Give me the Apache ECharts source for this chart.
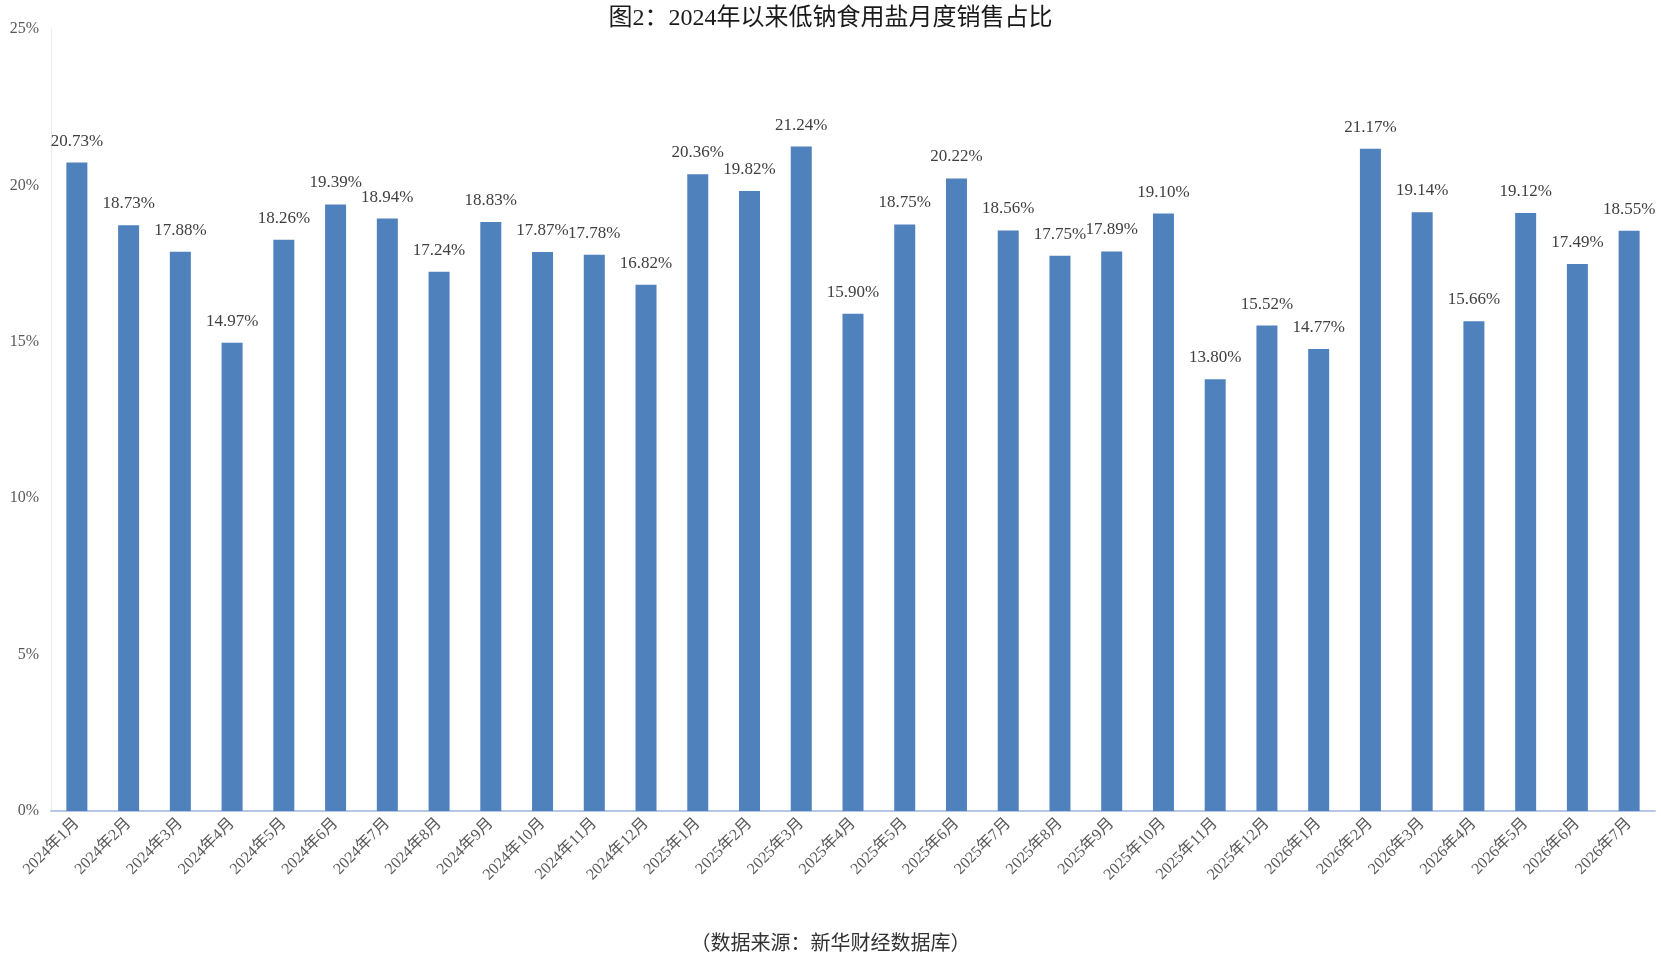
<!DOCTYPE html>
<html><head><meta charset="utf-8">
<script src="https://cdn.jsdelivr.net/npm/echarts@6/dist/echarts.min.js"></script>
<style>html,body{margin:0;padding:0;background:#fff}#c{width:1661px;height:965px}</style>
</head><body><div id="c"></div>
<script>
const categories = ["2024年1月","2024年2月","2024年3月","2024年4月","2024年5月","2024年6月","2024年7月","2024年8月","2024年9月","2024年10月","2024年11月","2024年12月","2025年1月","2025年2月","2025年3月","2025年4月","2025年5月","2025年6月","2025年7月","2025年8月","2025年9月","2025年10月","2025年11月","2025年12月","2026年1月","2026年2月","2026年3月","2026年4月","2026年5月","2026年6月","2026年7月"];
const values = [20.73,18.73,17.88,14.97,18.26,19.39,18.94,17.24,18.83,17.87,17.78,16.82,20.36,19.82,21.24,15.90,18.75,20.22,18.56,17.75,17.89,19.10,13.80,15.52,14.77,21.17,19.14,15.66,19.12,17.49,18.55];
const yTicks = [0,5,10,15,20,25];
const font = "'Liberation Serif','Noto Sans CJK SC',serif";
const chart = echarts.init(document.getElementById('c'));
chart.setOption({
  animation:false,
  title:[{text:'图2：2024年以来低钠食用盐月度销售占比',left:'center',top:2,textStyle:{fontFamily:font,fontSize:24,fontWeight:'normal',color:'#1a1a1a'}},
         {text:'（数据来源：新华财经数据库）',left:'center',top:930,textStyle:{fontFamily:font,fontSize:20,fontWeight:'normal',color:'#333'}}],
  grid:{left:51,right:6,top:29,bottom:154},
  xAxis:{type:'category',data:categories,
    axisLine:{lineStyle:{color:'#b4c7e7',width:2}},axisTick:{show:false},
    axisLabel:{rotate:45,interval:0,fontFamily:font,fontSize:16,color:'#595959',margin:10}},
  yAxis:{type:'value',min:0,max:25,interval:5,
    axisLine:{show:true,lineStyle:{color:'#e8edf5'}},splitLine:{show:false},
    axisLabel:{formatter:v=>v+'%',fontFamily:font,fontSize:16,color:'#595959',margin:12}},
  series:[{type:'bar',data:values,barWidth:21,itemStyle:{color:'#4f81bd'},
    label:{show:true,position:'top',distance:13,formatter:p=>p.value.toFixed(2)+'%',fontFamily:font,fontSize:17,color:'#404040'}}]
});
</script></body></html>
